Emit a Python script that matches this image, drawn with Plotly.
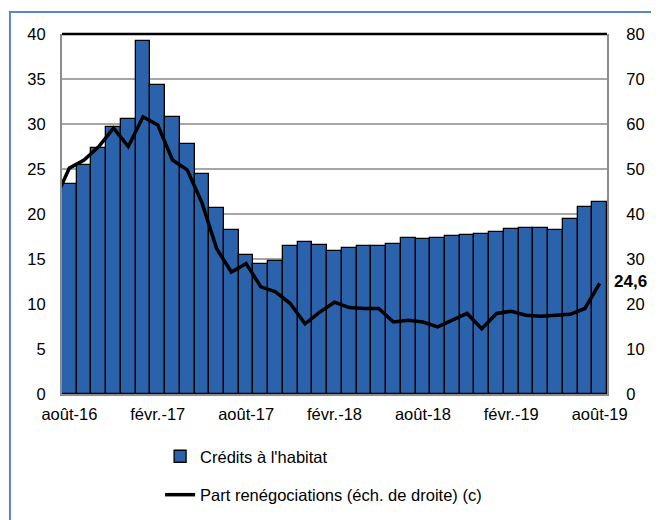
import plotly.graph_objects as go

# Crédits à l'habitat (left axis), monthly août-16 .. août-19
credits = [23.3, 25.5, 27.3, 29.7, 30.6, 39.2, 34.3, 30.8, 27.8, 24.5,
           20.7, 18.2, 15.4, 14.5, 14.8, 16.4, 16.9, 16.6, 15.9, 16.2,
           16.4, 16.4, 16.7, 17.3, 17.2, 17.3, 17.6, 17.7, 17.8, 18.0,
           18.3, 18.5, 18.4, 18.2, 19.4, 20.8, 21.3]
bar_x = list(range(len(credits)))

# Part renégociations (right axis), juil.-16 .. août-19 (first point clipped at the axis)
renego = [43.0, 50.2, 52.0, 55.0, 59.1, 55.0, 61.6, 59.8, 52.0, 49.8, 42.5,
          32.3, 27.1, 29.0, 23.8, 22.7, 20.1, 15.6, 18.2, 20.4, 19.2,
          19.0, 19.0, 16.0, 16.4, 16.0, 14.9, 16.4, 17.9, 14.5, 17.9,
          18.4, 17.5, 17.3, 17.5, 17.7, 19.0, 24.6]
line_x = list(range(-1, len(credits)))

tick_pos = [0, 6, 12, 18, 24, 30, 36]
tick_text = ["août-16", "févr.-17", "août-17", "févr.-18", "août-18", "févr.-19", "août-19"]

last_label = "24,6"

FONT = "Liberation Sans, Arial, sans-serif"
FS = 16.5

fig = go.Figure()
fig.add_trace(go.Bar(
    x=bar_x, y=credits, name="Crédits à l'habitat",
    marker=dict(color="#2A63AC", line=dict(color="#000000", width=1.3)),
    legendgroup="a", hoverinfo="y",
))
fig.add_trace(go.Scatter(
    x=line_x, y=renego, name="Part renégociations (éch. de droite) (c)",
    mode="lines", line=dict(color="#000000", width=3.5),
    yaxis="y2", legendgroup="b",
))

fig.add_annotation(
    x=36, y=24.6, xref="x", yref="y2", text="<b>" + last_label + "</b>",
    showarrow=False, xanchor="left", yanchor="middle", xshift=12, yshift=2,
    font=dict(family=FONT, size=17, color="#000000"),
)

# top border (black) and outer chart frame (blue)
fig.add_shape(type="line", xref="paper", yref="paper", x0=0, x1=1, y0=1, y1=1,
              line=dict(color="#000000", width=2.5))
fig.add_shape(type="rect", xref="paper", yref="paper",
              x0=-0.0955, x1=1.14, y0=-0.42, y1=1.0612,
              line=dict(color="#5B86C5", width=2), fillcolor="rgba(0,0,0,0)")

fig.update_layout(
    width=659, height=520,
    margin=dict(l=54, r=60, t=26, b=134),
    paper_bgcolor="#ffffff", plot_bgcolor="#ffffff",
    font=dict(family=FONT, size=FS, color="#000000"),
    bargap=0,
    showlegend=True,
    legend=dict(
        x=0.18, y=-0.125, xanchor="left", yanchor="top",
        orientation="v", tracegroupgap=14,
        font=dict(family=FONT, size=FS, color="#000000"),
        bgcolor="rgba(0,0,0,0)",
    ),
    xaxis=dict(
        range=[-0.5, 36.5], tickvals=tick_pos, ticktext=tick_text,
        showgrid=False, zeroline=False, showline=True, linecolor="#8C8C8C",
        linewidth=2, ticks="", tickfont=dict(size=FS), ticklabelstandoff=4,
    ),
    yaxis=dict(
        range=[0, 40], tickvals=[0, 5, 10, 15, 20, 25, 30, 35, 40],
        showgrid=True, gridcolor="#A6A6A6", gridwidth=1.5,
        zeroline=False, showline=True, linecolor="#8C8C8C", linewidth=2,
        ticks="", ticklen=0, tickfont=dict(size=FS), ticklabelstandoff=11,
    ),
    yaxis2=dict(
        range=[0, 80], tickvals=[0, 10, 20, 30, 40, 50, 60, 70, 80],
        overlaying="y", side="right", showgrid=False, zeroline=False,
        showline=True, linecolor="#8C8C8C", linewidth=2, ticks="",
        tickfont=dict(size=FS), ticklabelstandoff=14,
    ),
)

fig.write_html("out.html")
